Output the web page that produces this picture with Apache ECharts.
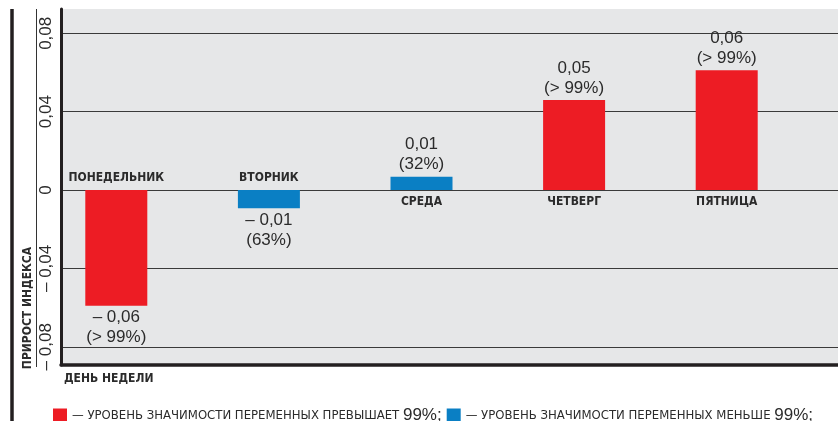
<!DOCTYPE html>
<html>
<head>
<meta charset="utf-8">
<script src="https://cdn.jsdelivr.net/npm/echarts@6/dist/echarts.min.js"></script>
<style>
    html, body { margin: 0; padding: 0; background: #fff; }
    #chart { width: 838px; height: 421px; }
</style>
</head>
<body>
<div id="chart"></div>
<script>
// data
const days = ['ПОНЕДЕЛЬНИК', 'ВТОРНИК', 'СРЕДА', 'ЧЕТВЕРГ', 'ПЯТНИЦА']
const growth = [-0.059, -0.0093, 0.0068, 0.0459, 0.0611]
const growthText = ['– 0,06', '– 0,01', '0,01', '0,05', '0,06']
const significance = ['> 99%', '63%', '32%', '> 99%', '> 99%']
const above99 = [true, false, false, true, true]
const yTicks = [-0.08, -0.04, 0, 0.04, 0.08]
const legendText = {
    high: ['— УРОВЕНЬ ЗНАЧИМОСТИ ПЕРЕМЕННЫХ ПРЕВЫШАЕТ ', '99%;'],
    low: ['— УРОВЕНЬ ЗНАЧИМОСТИ ПЕРЕМЕННЫХ МЕНЬШЕ ', '99%;']
}

const RED = '#ed1c24'
const BLUE = '#0a7fc4'
const INK = '#2b2b2b'
const yMin = -0.0893
const yMax = 0.0924

function fmtTick(v) {
    if (v === 0) return '0'
    return (v < 0 ? '– ' : '') + Math.abs(v).toFixed(2).replace('.', ',')
}

function barData(flag) {
    return growth.map((v, i) => {
        if (above99[i] !== flag) return '-'
        return {
            value: v,
            label: { position: v < 0 ? 'bottom' : 'top' }
        }
    })
}

const valueLabel = {
    show: true,
    distance: 2,
    formatter: p => growthText[p.dataIndex] + '\n(' + significance[p.dataIndex] + ')',
    fontFamily: 'Liberation Sans',
    fontSize: 17,
    lineHeight: 20,
    color: INK
}

const chart = echarts.init(document.getElementById('chart'))

const option = {
    animation: false,
    grid: [
        { left: 61, right: 0, top: 9, bottom: 56, show: true, backgroundColor: '#e6e7e8', borderWidth: 0 },
        { left: 40, right: 35, top: 9, bottom: 56 }
    ],
    xAxis: [
        {
            gridIndex: 0, type: 'value', min: 0, max: 1,
            axisLine: { show: true, onZero: false, lineStyle: { color: '#231f20', width: 3.5 } },
            axisTick: { show: false }, axisLabel: { show: false }, splitLine: { show: false }
        },
        {
            gridIndex: 1, type: 'category', data: days, show: false
        }
    ],
    yAxis: [
        {
            gridIndex: 0, type: 'value', min: yMin, max: yMax,
            axisLine: { show: true, onZero: false, lineStyle: { color: '#231f20', width: 3 } },
            axisTick: { show: false, customValues: yTicks },
            axisLabel: {
                customValues: yTicks,
                rotate: 90,
                margin: 6,
                formatter: fmtTick,
                fontFamily: 'Liberation Sans',
                fontSize: 17,
                color: INK
            },
            splitLine: { show: true, lineStyle: { color: '#3a3a3a', width: 1.2 } }
        },
        {
            gridIndex: 1, type: 'value', min: yMin, max: yMax, show: false,
            splitLine: { show: false }
        }
    ],
    legend: {
        left: 48,
        top: 402,
        icon: 'rect',
        itemWidth: 14,
        itemHeight: 14,
        itemGap: 5,
        data: ['high', 'low'],
        formatter: name => '{t|' + legendText[name][0] + '}{n|' + legendText[name][1] + '}',
        textStyle: {
            rich: {
                t: { fontFamily: 'DejaVu Sans Condensed', fontSize: 13, color: INK },
                n: { fontFamily: 'Liberation Sans', fontSize: 17, color: INK }
            }
        }
    },
    graphic: [
        { type: 'line', shape: { x1: 12, y1: 9, x2: 12, y2: 421 }, style: { stroke: '#231f20', lineWidth: 3.5 } },
        { type: 'line', shape: { x1: 36.5, y1: 9, x2: 36.5, y2: 367 }, style: { stroke: '#333', lineWidth: 1 } },
        {
            type: 'text', x: 28, y: 308, rotation: Math.PI / 2,
            style: {
                text: 'ПРИРОСТ ИНДЕКСА', align: 'center', verticalAlign: 'middle',
                font: 'bold 12px "DejaVu Sans Condensed"', fill: INK
            }
        },
        {
            type: 'text', x: 64, y: 379,
            style: {
                text: 'ДЕНЬ НЕДЕЛИ', align: 'left', verticalAlign: 'middle',
                font: 'bold 12px "DejaVu Sans Condensed"', fill: INK
            }
        }
    ],
    series: [
        {
            name: 'high', type: 'bar', xAxisIndex: 1, yAxisIndex: 1, stack: 'd',
            barWidth: 62, barGap: '-100%',
            itemStyle: { color: RED },
            label: valueLabel,
            data: barData(true)
        },
        {
            name: 'low', type: 'bar', xAxisIndex: 1, yAxisIndex: 1, stack: 'd',
            barWidth: 62, barGap: '-100%',
            itemStyle: { color: BLUE },
            label: valueLabel,
            data: barData(false)
        },
        {
            // invisible copy of the bars, only carries the day names on the other side of zero
            name: 'days', type: 'bar', xAxisIndex: 1, yAxisIndex: 1,
            barWidth: 62, barGap: '-100%', silent: true,
            itemStyle: { color: 'rgba(0,0,0,0)' },
            label: {
                show: true,
                distance: 6,
                formatter: p => days[p.dataIndex],
                fontFamily: 'DejaVu Sans Condensed',
                fontWeight: 'bold',
                fontSize: 12,
                color: INK
            },
            data: growth.map(v => ({ value: v, label: { position: v < 0 ? 'top' : 'bottom' } }))
        }
    ]
}

chart.setOption(option)
</script>
</body>
</html>
